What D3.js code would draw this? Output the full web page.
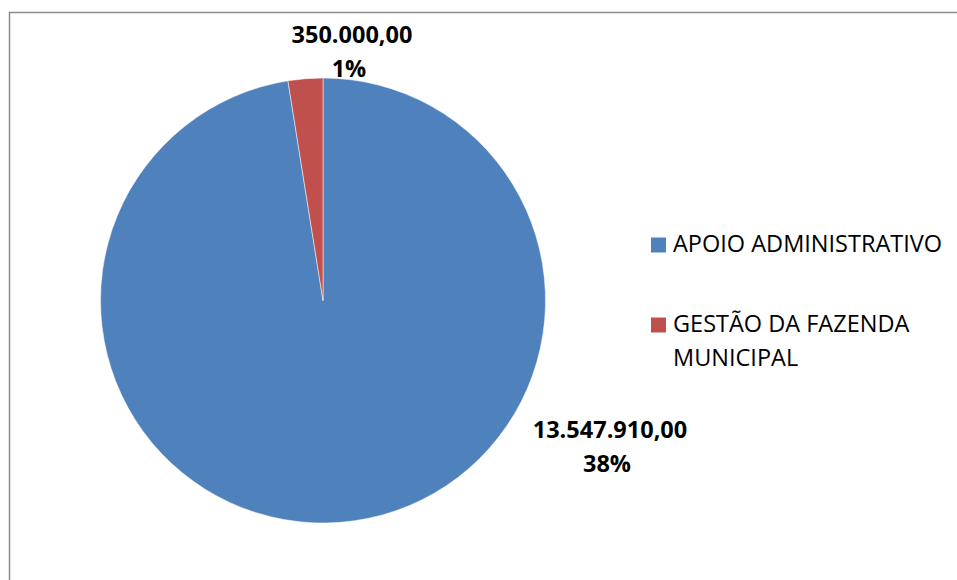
<!DOCTYPE html>
<html>
<head>
<meta charset="utf-8">
<script src="https://cdn.jsdelivr.net/npm/d3@7"></script>
<style>
  body { margin: 0; background: #fff; overflow: hidden; }
  svg { display: block; }
  text { font-family: "Open Sans", sans-serif; }
</style>
</head>
<body>
<div id="chart"></div>
<script>
// data
const categories = ["APOIO ADMINISTRATIVO", "GESTÃO DA FAZENDA MUNICIPAL"]
const values = [13547910, 350000]
const valueLabels = ["13.547.910,00", "350.000,00"]
const pctLabels = ["38%", "1%"]
const colors = ["#4F81BD", "#C0504D"]

const width = 957
const height = 580
const cx = 323, cy = 300.5, radius = 222.5

const svg = d3.select("#chart")
  .append("svg")
    .attr("width", width)
    .attr("height", height)

// chart frame (only top and left edges are in view)
svg.append("path")
  .attr("d", "M9.5," + height + "V12.5H" + width)
  .attr("fill", "none")
  .attr("stroke", "#8c8c8c")
  .attr("stroke-width", 1.5)

const pie = d3.pie().sort(null).value(d => d)
const arc = d3.arc().innerRadius(0).outerRadius(radius)

const g = svg.append("g")
  .attr("transform", "translate(" + cx + "," + cy + ")")

g.selectAll("path")
  .data(pie(values))
  .join("path")
    .attr("d", arc)
    .attr("fill", (d, i) => colors[i])
    .attr("stroke", "#fff")
    .attr("stroke-width", 0.5)

// data labels
const labelPos = [
  { x: 287, y: 137 },   // blue slice label, relative to centre
  { x: 29, y: -258 }    // red slice label
]
labelPos.forEach(function(p, i) {
  const t = g.append("text")
    .attr("text-anchor", "middle")
    .attr("font-weight", 700)
    .attr("font-size", "23.5px")
    .attr("fill", "#000")
  t.append("tspan").attr("x", p.x).attr("y", p.y).text(valueLabels[i])
  t.append("tspan").attr("x", p.x - 3).attr("y", p.y + 34).text(pctLabels[i])
})

// legend
const legendLines = [["APOIO ADMINISTRATIVO"], ["GESTÃO DA FAZENDA", "MUNICIPAL"]]
const legendY = [252, 332]
const legend = svg.append("g")
legendLines.forEach(function(lines, i) {
  legend.append("rect")
    .attr("x", 651)
    .attr("y", legendY[i] - 14.5)
    .attr("width", 15)
    .attr("height", 15)
    .attr("fill", colors[i])
  const t = legend.append("text")
    .attr("font-size", "23.5px")
    .attr("fill", "#000")
  lines.forEach(function(l, j) {
    t.append("tspan").attr("x", 673).attr("y", legendY[i] + j * 34).text(l)
  })
})
</script>
</body>
</html>
